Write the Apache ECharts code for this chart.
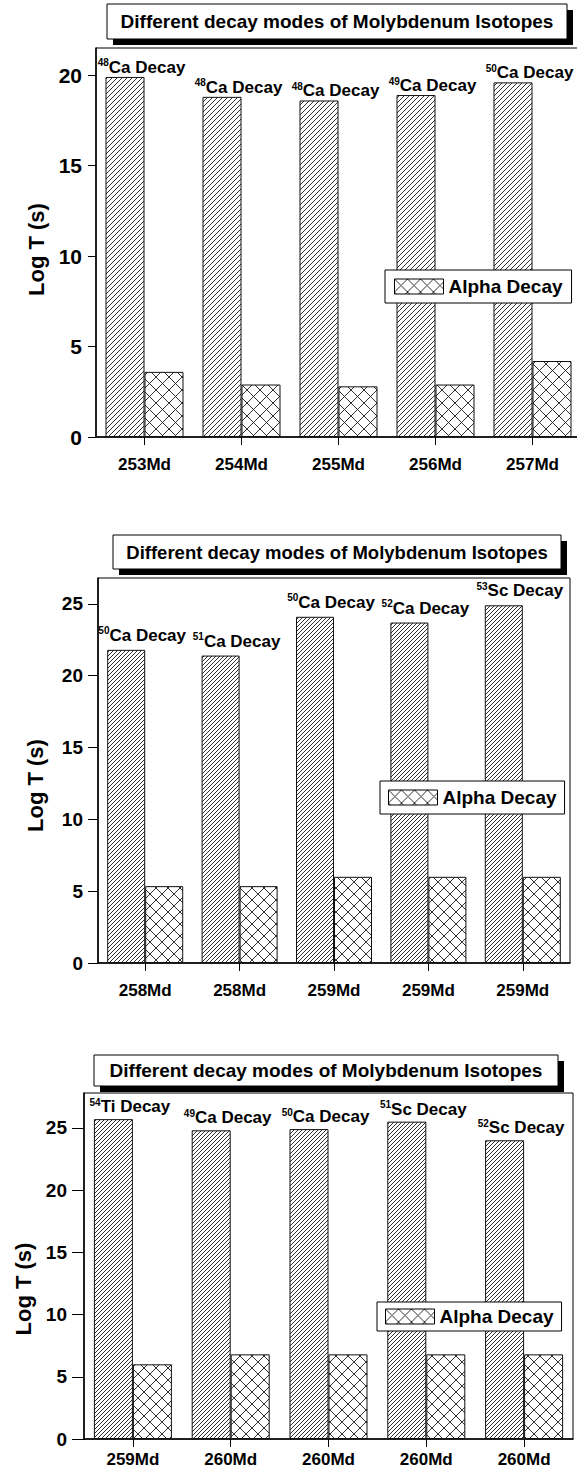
<!DOCTYPE html>
<html>
<head>
<meta charset="utf-8"/>
<title>Decay modes of Md isotopes</title>
<script src="https://cdn.jsdelivr.net/npm/echarts@6.0.0/dist/echarts.min.js"></script>
<style type="text/css">
  html, body { margin: 0; padding: 0; background: #fff; }
  #main { width: 577px; height: 1468px; }
</style>
</head>
<body>
<div id="main"></div>
<script type="text/javascript">
// ---- data ----
var titleText = 'Different decay modes of Molybdenum Isotopes';
var alphaName = 'Alpha Decay';

// panel 1
var cats1 = ['253Md', '254Md', '255Md', '256Md', '257Md'];
var cluster1 = [19.9, 18.8, 18.6, 18.9, 19.6];
var alpha1 = [3.6, 2.9, 2.8, 2.9, 4.2];
var mass1 = ['48', '48', '48', '49', '50'];
var emit1 = ['Ca', 'Ca', 'Ca', 'Ca', 'Ca'];
var yTicks1 = [0, 5, 10, 15, 20];

// panel 2
var cats2 = ['258Md', '258Md', '259Md', '259Md', '259Md'];
var cluster2 = [21.8, 21.4, 24.1, 23.7, 24.9];
var alpha2 = [5.35, 5.35, 6.0, 6.0, 6.0];
var mass2 = ['50', '51', '50', '52', '53'];
var emit2 = ['Ca', 'Ca', 'Ca', 'Ca', 'Sc'];
var yTicks2 = [0, 5, 10, 15, 20, 25];

// panel 3
var cats3 = ['259Md', '260Md', '260Md', '260Md', '260Md'];
var cluster3 = [25.7, 24.8, 24.9, 25.5, 24.0];
var alpha3 = [6.0, 6.8, 6.8, 6.8, 6.8];
var mass3 = ['54', '49', '50', '51', '52'];
var emit3 = ['Ti', 'Ca', 'Ca', 'Sc', 'Sc'];
var yTicks3 = [0, 5, 10, 15, 20, 25];

var FONT = '"Liberation Sans", Arial, sans-serif';

// hatch fills drawn on small canvases
function hatch(size, cross) {
    var c = document.createElement('canvas');
    c.width = size; c.height = size;
    var g = c.getContext('2d');
    g.fillStyle = '#fff';
    g.fillRect(0, 0, size, size);
    g.strokeStyle = '#1a1a1a';
    g.lineWidth = 0.9;
    g.beginPath();
    g.moveTo(-1, size + 1); g.lineTo(size + 1, -1);
    g.moveTo(-1, 1); g.lineTo(1, -1);
    g.moveTo(size - 1, size + 1); g.lineTo(size + 1, size - 1);
    if (cross) {
        g.moveTo(-1, -1); g.lineTo(size + 1, size + 1);
        g.moveTo(-1, size - 1); g.lineTo(1, size + 1);
        g.moveTo(size - 1, -1); g.lineTo(size + 1, 1);
    }
    g.stroke();
    return { image: c, repeat: 'repeat', imageWidth: size, imageHeight: size };
}

var panels = [
    { cats: cats1, cluster: cluster1, alpha: alpha1, mass: mass1, emit: emit1, ticks: yTicks1,
      grid: { left: 96, top: 48, width: 485, height: 389 }, yMax: 21.5, bw: 39,
      hatchSize: 5, crossSize: 13, labDist: 0, yFont: 21, yMargin: 14, tickLen: 8, xMargin: 19,
      nameGap: 44, namePad: 14,
      legend: { left: 385, top: 270, pad: [7, 9] },
      box: { x: 107, y: 4, w: 460, h: 35, font: 19 } },
    { cats: cats2, cluster: cluster2, alpha: alpha2, mass: mass2, emit: emit2, ticks: yTicks2,
      grid: { left: 98, top: 578, width: 472, height: 385 }, yMax: 26.8, bw: 38,
      hatchSize: 4, crossSize: 12, labDist: 5, yFont: 19, yMargin: 15, tickLen: 10, xMargin: 19,
      nameGap: 52, namePad: 30,
      legend: { left: 380, top: 781, pad: [7, 8] },
      box: { x: 113, y: 535, w: 448, h: 34, font: 18.5 } },
    { cats: cats3, cluster: cluster3, alpha: alpha3, mass: mass3, emit: emit3, ticks: yTicks3,
      grid: { left: 84, top: 1093, width: 489, height: 346 }, yMax: 27.8, bw: 39,
      hatchSize: 4, crossSize: 12, labDist: 3, yFont: 19, yMargin: 17, tickLen: 12, xMargin: 12,
      nameGap: 46, namePad: 46,
      legend: { left: 377, top: 1302, pad: [5, 8] },
      box: { x: 94, y: 1055, w: 464, h: 31, font: 19 } }
];

var option = {
    animation: false,
    grid: [], xAxis: [], yAxis: [], series: [], legend: [], graphic: []
};

panels.forEach(function (p, i) {
    var gr = p.grid;
    option.grid.push({
        left: gr.left, top: gr.top, width: gr.width, height: gr.height,
        containLabel: false, outerBoundsMode: 'none',
        show: true, borderColor: '#000', borderWidth: 1, backgroundColor: 'transparent'
    });
    option.xAxis.push({
        type: 'category', gridIndex: i, data: p.cats,
        axisLine: { show: true, onZero: false, lineStyle: { color: '#000', width: 1.5 } },
        axisTick: { show: true, alignWithLabel: true, length: 8, lineStyle: { color: '#000', width: 1 } },
        axisLabel: { interval: 0, margin: p.xMargin, fontSize: 17, fontWeight: 'bold', color: '#000', fontFamily: FONT },
        splitLine: { show: false }
    });
    option.yAxis.push({
        type: 'value', gridIndex: i, min: 0, max: p.yMax, interval: 5,
        axisLine: { show: true, lineStyle: { color: '#000', width: 1.5 } },
        axisTick: { show: true, length: p.tickLen, customValues: p.ticks, lineStyle: { color: '#000', width: 1 } },
        axisLabel: { customValues: p.ticks, margin: p.yMargin, fontSize: p.yFont, fontWeight: 'bold', color: '#000', fontFamily: FONT },
        splitLine: { show: false },
        name: 'Log T (s)', nameLocation: 'middle', nameGap: p.nameGap, nameRotate: 90,
        nameTextStyle: { fontSize: 22, fontWeight: 'bold', color: '#000', fontFamily: FONT, padding: [0, p.namePad, 0, 0] }
    });
    option.series.push({
        name: 'Cluster Decay', type: 'bar', xAxisIndex: i, yAxisIndex: i,
        data: p.cluster, barWidth: p.bw, barGap: '0%',
        itemStyle: { color: hatch(p.hatchSize, false), borderColor: '#111', borderWidth: 1 },
        emphasis: { disabled: true },
        label: {
            show: true, position: 'top', distance: p.labDist, offset: [p.bw / 2 - 3, 0],
            formatter: function (d) {
                return '{sup|' + p.mass[d.dataIndex] + '}{main|' + p.emit[d.dataIndex] + ' Decay}';
            },
            rich: {
                sup: { fontSize: 10, fontWeight: 'bold', color: '#000', fontFamily: FONT, verticalAlign: 'top', lineHeight: 10 },
                main: { fontSize: 17, fontWeight: 'bold', color: '#000', fontFamily: FONT, lineHeight: 19 }
            }
        }
    });
    option.series.push({
        name: alphaName, type: 'bar', xAxisIndex: i, yAxisIndex: i,
        data: p.alpha, barWidth: p.bw, barGap: '0%',
        itemStyle: { color: hatch(p.crossSize, true), borderColor: '#111', borderWidth: 1 },
        emphasis: { disabled: true }
    });
    option.legend.push({
        data: [alphaName], left: p.legend.left, top: p.legend.top, icon: 'rect',
        itemWidth: 49, itemHeight: 15, padding: p.legend.pad, selectedMode: false,
        borderColor: '#000', borderWidth: 1, backgroundColor: '#fff',
        itemStyle: { borderColor: '#000', borderWidth: 1 },
        textStyle: { fontSize: 19, fontWeight: 'bold', color: '#000', fontFamily: FONT, lineHeight: 16 }
    });
    var b = p.box;
    option.graphic.push(
        { type: 'rect', z: 10, shape: { x: b.x + 6, y: b.y + 6, width: b.w, height: b.h }, style: { fill: '#000' } },
        { type: 'rect', z: 11, shape: { x: b.x, y: b.y, width: b.w, height: b.h }, style: { fill: '#fff', stroke: '#000', lineWidth: 1 } },
        { type: 'text', z: 12, x: b.x + b.w / 2, y: b.y + b.h / 2,
          style: { text: titleText, fill: '#000', font: 'bold ' + b.font + 'px ' + FONT, align: 'center', verticalAlign: 'middle' } }
    );
});

var myChart = echarts.init(document.getElementById('main'), null, { renderer: 'svg' });
myChart.setOption(option);
</script>
</body>
</html>
